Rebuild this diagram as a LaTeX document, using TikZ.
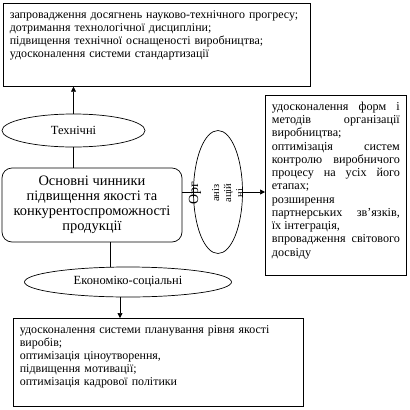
\documentclass[tikz,border=0pt]{standalone}
\usepackage{fontspec}
\setmainfont{Liberation Serif}
\usetikzlibrary{arrows.meta, shapes.geometric}

\begin{document}
\hyphenpenalty=10000
\exhyphenpenalty=10000
\begin{tikzpicture}[
x=1bp, y=-1bp,
line width=0.7bp,
>={Triangle[length=5bp,width=5bp]},
list box/.style = {draw, rectangle, anchor=north west, inner xsep=6.5bp, inner ysep=5bp, text height=10bp, font=\fontsize{12}{13}\selectfont},
factor/.style = {draw, ellipse, inner sep=0pt, font=\fontsize{12.5}{14}\selectfont},
]

\useasboundingbox (0,0) rectangle (410,410);

% boxes with the lists of measures
\node (progress) [list box, align=left, text width=294bp, text depth=63bp] at (3,3)
  {запровадження досягнень науково-технічного прогресу;\\
   дотримання технологічної дисципліни;\\
   підвищення технічної оснащеності виробництва;\\
   удосконалення системи стандартизації};

\node (orgbox) [list box, align=justify, text width=128bp, text depth=160bp,
  font=\fontsize{12.2}{13.3}\selectfont] at (265,95)
  {удосконалення форм і\linebreak
   методів організації\linebreak
   виробництва;\newline
   оптимізація систем\linebreak
   контролю виробничого\linebreak
   процесу на усіх його\linebreak
   етапах;\newline
   розширення\newline
   партнерських зв’язків,\linebreak
   їх інтеграція,\newline
   впровадження світового\linebreak
   досвіду};

\node (econbox) [list box, align=left, text width=277bp, text depth=68bp] at (13,318)
  {удосконалення системи планування рівня якості\\
   виробів;\\
   оптимізація ціноутворення,\\
   підвищення мотивації;\\
   оптимізація кадрової політики};

% main factor box
\node (main) [draw, rounded corners=10bp, minimum width=180bp, minimum height=74bp,
  align=center, font=\fontsize{14.5}{15}\selectfont] at (92,205)
  {Основні чинники\\ підвищення якості та\\ конкурентоспроможності\\ продукції};

% groups of factors
\node (technical) [factor, minimum width=143bp, minimum height=33bp] at (73.5,130.5) {Технічні};
\node (economic) [factor, minimum width=207bp, minimum height=30bp] at (128,282) {Економіко-соціальні};
\node (organiz) [factor, minimum width=49bp, minimum height=123bp] at (218,192) {};
\node (orglabel) [rotate=90, align=center, inner sep=0pt, font=\fontsize{10.5}{12}\selectfont] at (216,193)
  {{\fontsize{14}{14}\selectfont Орг}\\[9bp]аніз\\ацій\\ні};

% connectors
\draw[->] (technical.north) -- (technical.north |- progress.south);
\draw (technical.south) -- (technical.south |- main.north);
\draw (organiz.west -| main.east) -- (organiz.west);
\draw[->] (organiz.east) -- (organiz.east -| orgbox.west);
\draw ([xshift=18bp]main.south) -- ([xshift=18bp]main.south |- economic.north);
\draw[->] ([xshift=-8bp]economic.south) -- ([xshift=-8bp]economic.south |- econbox.north);

\end{tikzpicture}
\end{document}
